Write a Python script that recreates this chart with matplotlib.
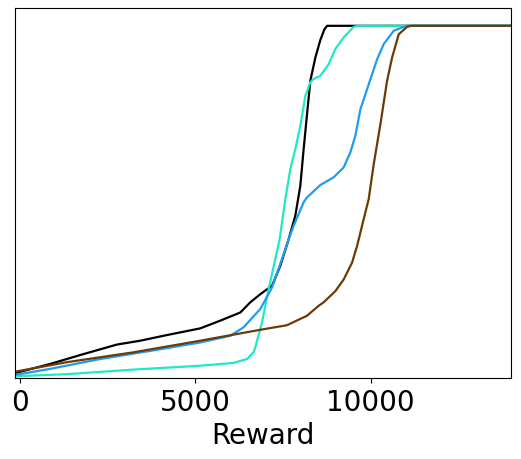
import matplotlib
matplotlib.use('Agg')
import matplotlib.pyplot as plt

plt.style.use('default')

# reward values (x) and cumulative fraction (y)
black_x = [-134, 864, 1814, 2766, 3431, 4192, 5142, 5713, 6283, 6568, 6853, 7187, 7424,
           7661, 7851, 7994, 8088, 8185, 8279, 8422, 8565, 8680, 8756, 14000]
black_y = [0.014, 0.040, 0.068, 0.095, 0.106, 0.122, 0.141, 0.163, 0.186, 0.215, 0.238, 0.262, 0.319,
           0.394, 0.461, 0.546, 0.650, 0.749, 0.844, 0.910, 0.960, 0.990, 1.0, 1.0]

cyan_x = [-134, 1340, 3240, 5142, 6092, 6474, 6662, 6711, 6902, 7092, 7281, 7404, 7566,
          7709, 7851, 7994, 8137, 8279, 8373, 8565, 8801, 8992, 9229, 9514, 9650, 14000]
cyan_y = [0.005, 0.011, 0.024, 0.035, 0.043, 0.054, 0.073, 0.087, 0.158, 0.253, 0.338, 0.394, 0.508,
          0.593, 0.650, 0.716, 0.801, 0.840, 0.849, 0.858, 0.891, 0.934, 0.967, 0.997, 1.0, 1.0]

blue_x = [-134, 864, 2290, 3716, 5142, 5998, 6377, 6853, 7187, 7472, 7661, 7803, 8088,
          8185, 8565, 8944, 9229, 9420, 9563, 9705, 9896, 10181, 10370, 10655, 10940, 11050, 14000]
blue_y = [0.009, 0.026, 0.054, 0.077, 0.101, 0.120, 0.144, 0.196, 0.257, 0.338, 0.394, 0.432, 0.499,
          0.513, 0.548, 0.570, 0.598, 0.641, 0.688, 0.763, 0.820, 0.905, 0.948, 0.986, 0.997, 1.0, 1.0]

brown_x = [-134, 1340, 3240, 5142, 6853, 7614, 8185, 8516, 8659, 8994, 9230, 9469, 9611, 9799,
           9942, 10085, 10276, 10466, 10609, 10798, 11037, 11150, 14000]
brown_y = [0.018, 0.045, 0.073, 0.106, 0.137, 0.150, 0.177, 0.205, 0.215, 0.247, 0.280, 0.328, 0.375,
           0.451, 0.508, 0.607, 0.721, 0.844, 0.910, 0.976, 0.997, 1.0, 1.0]

fig, ax = plt.subplots(figsize=(5.21, 4.60), dpi=100)

ax.plot(black_x, black_y, color='black', linewidth=1.6)
ax.plot(cyan_x, cyan_y, color='#1ee8c6', linewidth=1.6)
ax.plot(blue_x, blue_y, color='#1e9cf0', linewidth=1.6)
ax.plot(brown_x, brown_y, color='#6b3a08', linewidth=1.6)

ax.set_xlim(-134, 14000)
ax.set_ylim(0, 1.05)
ax.set_yticks([])
ax.set_xticks([0, 5000, 10000])
ax.tick_params(axis='x', labelsize=20)
ax.set_xlabel('Reward', fontsize=20)

fig.subplots_adjust(left=0.029, right=0.981, top=0.980, bottom=0.176)
plt.savefig('out.png', dpi=100)
